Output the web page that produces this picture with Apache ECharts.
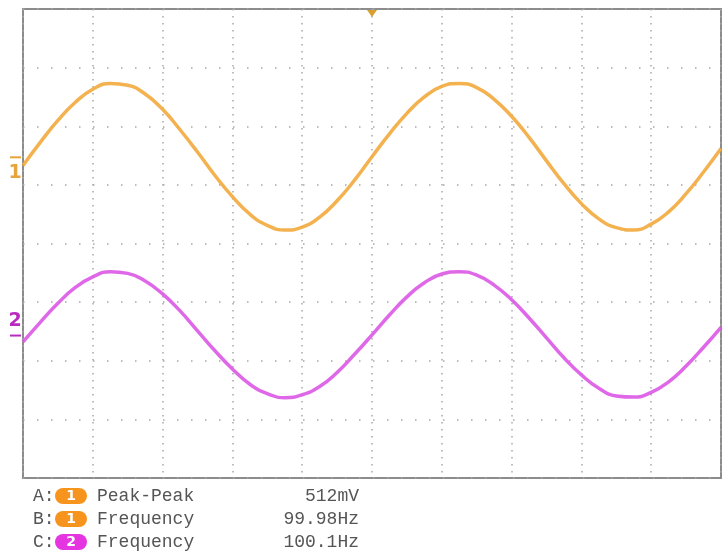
<!DOCTYPE html>
<html><head><meta charset="utf-8">
<script src="https://cdn.jsdelivr.net/npm/echarts@6/dist/echarts.min.js"></script>
<style>html,body{margin:0;padding:0;background:#fff}#c{width:725px;height:551px}</style>
</head><body><div id="c"></div>
<script>
// time axis in divisions (10 div across screen)
const timeDiv = [0,0.25,0.5,0.75,1,1.25,1.5,1.75,2,2.25,2.5,2.75,3,3.25,3.5,3.75,4,4.25,4.5,4.75,5,5.25,5.5,5.75,6,6.25,6.5,6.75,7,7.25,7.5,7.75,8,8.25,8.5,8.75,9,9.25,9.5,9.75,10];
// channel 1 trace (vertical divisions, centre = 0)
const ch1Values = [1.33,1.73,2.10,2.41,2.63,2.73,2.70,2.55,2.29,1.94,1.56,1.16,0.80,0.50,0.31,0.23,0.28,0.45,0.73,1.08,1.48,1.87,2.22,2.50,2.68,2.73,2.66,2.46,2.17,1.81,1.41,1.02,0.68,0.42,0.27,0.23,0.33,0.54,0.85,1.22,1.62];
// channel 2 trace
const ch2Values = [-1.68,-1.34,-1.02,-0.75,-0.57,-0.48,-0.51,-0.64,-0.86,-1.15,-1.49,-1.83,-2.14,-2.40,-2.56,-2.63,-2.58,-2.44,-2.20,-1.89,-1.56,-1.22,-0.91,-0.67,-0.52,-0.48,-0.54,-0.71,-0.96,-1.27,-1.61,-1.95,-2.24,-2.47,-2.60,-2.62,-2.54,-2.36,-2.09,-1.77,-1.43];
const ch1Offset = 1.47;
const ch2Offset = -1.57;
const triggerPos = 5;
const measLabels = ['A:','B:','C:'];
const measChannels = ['1','1','2'];
const measNames = ['Peak-Peak','Frequency','Frequency'];
const measValues = ['512mV','99.98Hz','100.1Hz'];

const C1 = '#F2AA3C', C2 = '#DC58E6';
const chart = echarts.init(document.getElementById('c'), null, {renderer:'canvas'});
const gridDot = {show:true, lineStyle:{color:'#a8a8a8', width:1.5, type:[1.5,5.5]}};
const gridDotH = {show:true, lineStyle:{color:'#a8a8a8', width:1.5, type:[1.5,12.5]}};
chart.setOption({
  backgroundColor:'#fff',
  animation:false,
  grid:{left:23,right:4,top:9,bottom:73,show:true,borderColor:'#8c8c8c',borderWidth:2,backgroundColor:'transparent'},
  xAxis:{type:'value',min:0,max:10,interval:1,axisLabel:{show:false},axisTick:{show:false},axisLine:{show:false},splitLine:gridDot},
  yAxis:{type:'value',min:-4,max:4,interval:1,axisLabel:{show:false},axisTick:{show:false},axisLine:{show:false},splitLine:gridDotH},
  series:[
    {type:'line',data:timeDiv.map((t,i)=>[t,ch1Values[i]]),smooth:0.5,showSymbol:false,lineStyle:{color:C1,width:3.5,opacity:0.9},z:3},
    {type:'line',data:timeDiv.map((t,i)=>[t,ch2Values[i]]),smooth:0.5,showSymbol:false,lineStyle:{color:C2,width:3.5,opacity:0.9},z:3}
  ]
});

const p1 = chart.convertToPixel({gridIndex:0},[0,ch1Offset]);
const p2 = chart.convertToPixel({gridIndex:0},[0,ch2Offset]);
const pt = chart.convertToPixel({gridIndex:0},[triggerPos,4]);
const g = [];
// channel markers
g.push({type:'rect',shape:{x:10,y:p1[1]-1,width:11,height:2},style:{fill:'#E8A33A'}});
g.push({type:'text',style:{text:'1',x:15,y:p1[1]+16,font:'bold 19px "DejaVu Sans"',fill:'#E8A33A',align:'center',verticalAlign:'middle'}});
g.push({type:'rect',shape:{x:10,y:p2[1]-1,width:11,height:2},style:{fill:'#B82AC0'}});
g.push({type:'text',style:{text:'2',x:15,y:p2[1]-14,font:'bold 19px "DejaVu Sans"',fill:'#B82AC0',align:'center',verticalAlign:'middle'}});
// trigger marker
g.push({type:'polygon',shape:{points:[[pt[0]-5,pt[1]+1],[pt[0]+5,pt[1]+1],[pt[0],pt[1]+8]]},style:{fill:'#D9A030'}});
// measurements
const rowY = [496,519,542];
const pillColors = {'1':'#F7941D','2':'#E535E0'};
measLabels.forEach((lab,i)=>{
  const y = rowY[i];
  g.push({type:'text',style:{text:lab,x:33,y:y,font:'18px "Liberation Mono"',fill:'#555',align:'left',verticalAlign:'middle'}});
  g.push({type:'rect',shape:{x:55,y:y-8,width:32,height:16,r:8},style:{fill:pillColors[measChannels[i]]}});
  g.push({type:'text',style:{text:measChannels[i],x:71,y:y,font:'bold 14px "DejaVu Sans"',fill:'#fff',align:'center',verticalAlign:'middle'}});
  g.push({type:'text',style:{text:measNames[i],x:97,y:y,font:'18px "Liberation Mono"',fill:'#555',align:'left',verticalAlign:'middle'}});
  g.push({type:'text',style:{text:measValues[i],x:359,y:y,font:'18px "Liberation Mono"',fill:'#555',align:'right',verticalAlign:'middle'}});
});
chart.setOption({graphic:{elements:g}});
</script>
</body></html>
